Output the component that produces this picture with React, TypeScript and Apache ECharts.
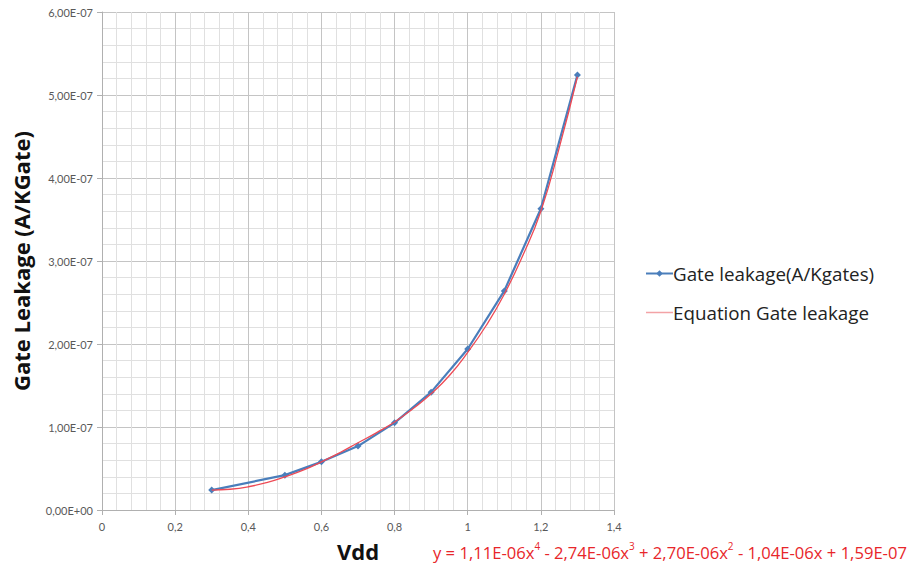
import React, { useEffect, useRef } from "react";
import * as echarts from "echarts";

const vdd = [0.3, 0.5, 0.6, 0.7, 0.8, 0.9, 1.0, 1.1, 1.2, 1.3];
const gateLeakage = [2.4e-8, 4.2e-8, 5.8e-8, 7.7e-8, 1.05e-7, 1.42e-7, 1.94e-7, 2.64e-7, 3.63e-7, 5.24e-7];

const eqX = [0.3, 0.35, 0.4, 0.45, 0.5, 0.55, 0.6, 0.65, 0.7, 0.75, 0.8, 0.85, 0.9, 0.95, 1.0, 1.05, 1.1, 1.15, 1.2, 1.25, 1.3];
const eqY = [2.4e-8, 2.5e-8, 2.8e-8, 3.3e-8, 4.0e-8, 4.8e-8, 5.8e-8, 6.9e-8, 8.1e-8, 9.3e-8, 1.06e-7, 1.22e-7, 1.4e-7, 1.62e-7, 1.9e-7, 2.22e-7, 2.6e-7, 3.06e-7, 3.6e-7, 4.36e-7, 5.22e-7];

const seriesNames = ["Gate leakage(A/Kgates)", "Equation Gate leakage"];
const axisTitles = { x: "Vdd", y: "Gate Leakage (A/KGate)" };

const FONT = "Lato, 'Open Sans', sans-serif";
const FONT2 = "'Open Sans', Lato, sans-serif";

function sciLabel(v: number): string {
  if (Math.abs(v) < 1e-20) return "0,00E+00";
  const e = Math.floor(Math.log10(Math.abs(v)) + 1e-9);
  const m = v / Math.pow(10, e);
  const sign = e < 0 ? "-" : "+";
  const ae = Math.abs(e);
  return m.toFixed(2).replace(".", ",") + "E" + sign + (ae < 10 ? "0" + ae : String(ae));
}

export default function App() {
  const ref = useRef<HTMLDivElement>(null);
  useEffect(() => {
    if (!ref.current) return;
    const chart = echarts.init(ref.current, null, { renderer: "svg" });
    const blueData = vdd.map((x, i) => [x, gateLeakage[i]]);
    const redData = eqX.map((x, i) => [x, eqY[i]]);
    chart.setOption({
      animation: false,
      backgroundColor: "#ffffff",
      grid: { left: 102, right: 297, top: 12, bottom: 60, containLabel: false },
      title: {
        left: 433,
        top: 541,
        padding: 0,
        text:
          "{n|y = 1,11E-06x}{s|4}{n| - 2,74E-06x}{s|3}{n| + 2,70E-06x}{s|2}{n| - 1,04E-06x + 1,59E-07}",
        textStyle: {
          fontWeight: "normal",
          rich: {
            n: { fontFamily: FONT2, fontSize: 16.6, fontWeight: "normal", color: "#e8262a", verticalAlign: "bottom", lineHeight: 20 },
            s: { fontFamily: FONT2, fontSize: 10, fontWeight: "normal", color: "#e8262a", verticalAlign: "top", lineHeight: 20, padding: [0, 0, 6, 0] },
          },
        },
      },
      legend: {
        orient: "vertical",
        left: 640,
        top: 259,
        itemGap: 20,
        itemWidth: 27,
        itemHeight: 8,
        textStyle: { fontFamily: FONT2, fontSize: 18.8, color: "#222222", padding: [0, 0, 0, -5] },
        data: [
          { name: seriesNames[0] },
          { name: seriesNames[1], lineStyle: { color: "#f3a3a6", width: 1.5 } },
        ],
      },
      xAxis: {
        type: "value",
        min: 0,
        max: 1.4,
        interval: 0.2,
        name: axisTitles.x,
        nameLocation: "middle",
        nameGap: 30,
        nameTextStyle: { fontFamily: FONT2, fontSize: 22, fontWeight: "bold", color: "#111111" },
        axisLine: { show: true, lineStyle: { color: "#b0b0b0", width: 1 } },
        axisTick: { show: true, length: 5, lineStyle: { color: "#b0b0b0" } },
        axisLabel: {
          margin: 11,
          fontFamily: FONT,
          fontSize: 11,
          color: "#595959",
          formatter: (v: number) => String(Math.round(v * 10) / 10).replace(".", ","),
        },
        splitLine: { show: true, lineStyle: { color: "#c4c4c4", width: 1 } },
        minorTick: { show: false, splitNumber: 5 },
        minorSplitLine: { show: true, lineStyle: { color: "#e0e0e0", width: 1 } },
      },
      yAxis: {
        type: "value",
        min: 0,
        max: 6e-7,
        interval: 1e-7,
        name: axisTitles.y,
        nameLocation: "middle",
        nameGap: 70,
        nameTextStyle: { fontFamily: FONT2, fontSize: 22, fontWeight: "bold", color: "#111111" },
        axisLine: { show: true, lineStyle: { color: "#b0b0b0", width: 1 } },
        axisTick: { show: true, length: 5, lineStyle: { color: "#b0b0b0" } },
        axisLabel: { margin: 9, fontFamily: FONT, fontSize: 11, color: "#595959", formatter: (v: number) => sciLabel(v) },
        splitLine: { show: true, lineStyle: { color: "#c4c4c4", width: 1 } },
        minorTick: { show: false, splitNumber: 5 },
        minorSplitLine: { show: true, lineStyle: { color: "#e0e0e0", width: 1 } },
      },
      series: [
        {
          name: seriesNames[0],
          type: "line",
          data: blueData,
          symbol: "diamond",
          symbolSize: 7,
          itemStyle: { color: "#4a7ebb" },
          lineStyle: { color: "#4a7ebb", width: 2.2 },
          z: 2,
        },
        {
          name: seriesNames[1],
          type: "line",
          data: redData,
          smooth: true,
          symbol: "line",
          showSymbol: false,
          itemStyle: { color: "#f3a3a6" },
          lineStyle: { color: "#ee4a55", width: 1.3 },
          z: 3,
        },
      ],
    });
    return () => chart.dispose();
  }, []);
  return <div ref={ref} style={{ width: 911, height: 570, position: "absolute", left: 0, top: 0 }} />;
}
